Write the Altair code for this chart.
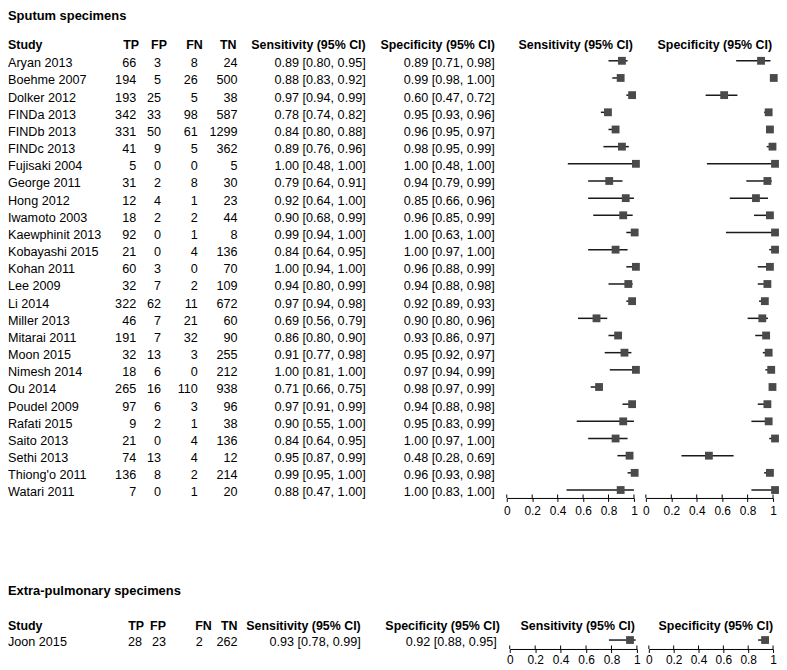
import altair as alt
import pandas as pd

# ---------------- data: sputum specimens ----------------
studies1 = ["Aryan 2013", "Boehme 2007", "Dolker 2012", "FINDa 2013", "FINDb 2013",
            "FINDc 2013", "Fujisaki 2004", "George 2011", "Hong 2012", "Iwamoto 2003",
            "Kaewphinit 2013", "Kobayashi 2015", "Kohan 2011", "Lee 2009", "Li 2014",
            "Miller 2013", "Mitarai 2011", "Moon 2015", "Nimesh 2014", "Ou 2014",
            "Poudel 2009", "Rafati 2015", "Saito 2013", "Sethi 2013", "Thiong'o 2011",
            "Watari 2011"]
tp1 = [66, 194, 193, 342, 331, 41, 5, 31, 12, 18, 92, 21, 60, 32, 322, 46, 191, 32, 18, 265, 97, 9, 21, 74, 136, 7]
fp1 = [3, 5, 25, 33, 50, 9, 0, 2, 4, 2, 0, 0, 3, 7, 62, 7, 7, 13, 6, 16, 6, 2, 0, 13, 8, 0]
fn1 = [8, 26, 5, 98, 61, 5, 0, 8, 1, 2, 1, 4, 0, 2, 11, 21, 32, 3, 0, 110, 3, 1, 4, 4, 2, 1]
tn1 = [24, 500, 38, 587, 1299, 362, 5, 30, 23, 44, 8, 136, 70, 109, 672, 60, 90, 255, 212, 938, 96, 38, 136, 12, 214, 20]
sens1 = [0.89, 0.88, 0.97, 0.78, 0.84, 0.89, 1.00, 0.79, 0.92, 0.90, 0.99, 0.84, 1.00, 0.94, 0.97, 0.69, 0.86, 0.91, 1.00, 0.71, 0.97, 0.90, 0.84, 0.95, 0.99, 0.88]
sens_lo1 = [0.80, 0.83, 0.94, 0.74, 0.80, 0.76, 0.48, 0.64, 0.64, 0.68, 0.94, 0.64, 0.94, 0.80, 0.94, 0.56, 0.80, 0.77, 0.81, 0.66, 0.91, 0.55, 0.64, 0.87, 0.95, 0.47]
sens_hi1 = [0.95, 0.92, 0.99, 0.82, 0.88, 0.96, 1.00, 0.91, 1.00, 0.99, 1.00, 0.95, 1.00, 0.99, 0.98, 0.79, 0.90, 0.98, 1.00, 0.75, 0.99, 1.00, 0.95, 0.99, 1.00, 1.00]
spec1 = [0.89, 0.99, 0.60, 0.95, 0.96, 0.98, 1.00, 0.94, 0.85, 0.96, 1.00, 1.00, 0.96, 0.94, 0.92, 0.90, 0.93, 0.95, 0.97, 0.98, 0.94, 0.95, 1.00, 0.48, 0.96, 1.00]
spec_lo1 = [0.71, 0.98, 0.47, 0.93, 0.95, 0.95, 0.48, 0.79, 0.66, 0.85, 0.63, 0.97, 0.88, 0.88, 0.89, 0.80, 0.86, 0.92, 0.94, 0.97, 0.88, 0.83, 0.97, 0.28, 0.93, 0.83]
spec_hi1 = [0.98, 1.00, 0.72, 0.96, 0.97, 0.99, 1.00, 0.99, 0.96, 0.99, 1.00, 1.00, 0.99, 0.98, 0.93, 0.96, 0.97, 0.97, 0.99, 0.99, 0.98, 0.99, 1.00, 0.69, 0.98, 1.00]

# ---------------- data: extra-pulmonary specimens ----------------
studies2 = ["Joon 2015"]
tp2 = [28]
fp2 = [23]
fn2 = [2]
tn2 = [262]
sens2 = [0.93]
sens_lo2 = [0.78]
sens_hi2 = [0.99]
spec2 = [0.92]
spec_lo2 = [0.88]
spec_hi2 = [0.95]

tick_values = [0, 0.2, 0.4, 0.6, 0.8, 1]

section_titles = ["Sputum specimens", "Extra-pulmonary specimens"]
headers = ["Study", "TP", "FP", "FN", "TN", "Sensitivity (95% CI)", "Specificity (95% CI)"]


def build_df(studies, tp, fp, fn, tn, se, se_lo, se_hi, sp, sp_lo, sp_hi):
    return pd.DataFrame({
        "Study": studies,
        "TP": [str(v) for v in tp],
        "FP": [str(v) for v in fp],
        "FN": [str(v) for v in fn],
        "TN": [str(v) for v in tn],
        "SensTxt": [f"{a:.2f} [{b:.2f}, {c:.2f}]" for a, b, c in zip(se, se_lo, se_hi)],
        "SpecTxt": [f"{a:.2f} [{b:.2f}, {c:.2f}]" for a, b, c in zip(sp, sp_lo, sp_hi)],
        "sens": se, "sens_lo": se_lo, "sens_hi": se_hi,
        "spec": sp, "spec_lo": sp_lo, "spec_hi": sp_hi,
    })


df1 = build_df(studies1, tp1, fp1, fn1, tn1, sens1, sens_lo1, sens_hi1, spec1, spec_lo1, spec_hi1)
df2 = build_df(studies2, tp2, fp2, fn2, tn2, sens2, sens_lo2, sens_hi2, spec2, spec_lo2, spec_hi2)
ticks_df = pd.DataFrame({"t": tick_values})

FONT = "Liberation Sans"
W, H = 771, 643


def section(df, studies, title, title_y, header_y, yrange, col_hdr_x, col_val_x,
            fhdr_x, sens_range, spec_range, axis_offset, axis_y, label_pad):
    layers = []
    ysc = alt.Scale(type="point", domain=studies, range=yrange, padding=0)
    Y = alt.Y("Study:N", scale=ysc, axis=None)

    # section title
    layers.append(alt.Chart(pd.DataFrame({"t": [title]})).mark_text(
        align="left", baseline="middle", font=FONT, fontSize=13, fontWeight="bold", color="black"
    ).encode(x=alt.value(0), y=alt.value(title_y), text="t:N"))

    # header row
    hdr_df = pd.DataFrame({"h": headers + ["Sensitivity (95% CI)", "Specificity (95% CI)"]})
    hx = col_hdr_x + fhdr_x
    for i, h in enumerate(hdr_df["h"]):
        layers.append(alt.Chart(pd.DataFrame({"h": [h]})).mark_text(
            align="left" if i == 0 else "right", baseline="middle", font=FONT,
            fontSize=12.5, fontWeight="bold", color="black"
        ).encode(x=alt.value(hx[i]), y=alt.value(header_y), text="h:N"))

    # table columns
    cols = ["Study", "TP", "FP", "FN", "TN", "SensTxt", "SpecTxt"]
    for i, c in enumerate(cols):
        layers.append(alt.Chart(df).mark_text(
            align="left" if i == 0 else "right", baseline="middle", dy=2.5,
            font=FONT, fontSize=12.7, color="black"
        ).encode(x=alt.value(col_val_x[i]), y=Y, text=f"{c}:N"))

    # forest plots
    for key, rng in (("sens", sens_range), ("spec", spec_range)):
        xsc = alt.Scale(domain=[0, 1], range=rng, zero=False, nice=False)
        layers.append(alt.Chart(df).mark_rule(color="#1a1a1a", strokeWidth=1.5).encode(
            x=alt.X(f"{key}_lo:Q", scale=xsc, axis=None), x2=f"{key}_hi:Q", y=Y))
        layers.append(alt.Chart(df).mark_square(size=62, color="#4a4a4a", opacity=1).encode(
            x=alt.X(f"{key}:Q", scale=xsc, axis=alt.Axis(
                orient="bottom", offset=axis_offset, values=tick_values, title=None,
                grid=False, domainColor="black", domainWidth=1, tickColor="black",
                tickSize=3.5, tickWidth=1, labelFont=FONT, labelFontSize=12,
                labelColor="black", labelPadding=label_pad, labelFlush=False,
                labelOverlap=False, format="~g")),
            y=Y, xOffset=alt.value(2)))
        layers.append(alt.Chart(ticks_df).mark_rule(color="black", strokeWidth=1).encode(
            x=alt.X("t:Q", scale=xsc, axis=None),
            y=alt.value(axis_y - 3.5), y2=alt.value(axis_y)))
    return layers


layers1 = section(df1, studies1, section_titles[0], 6, 35, [51, 483],
                  [0, 132, 160, 196, 230, 360, 490], [0, 129, 154, 191, 231, 360, 490],
                  [629, 769], [502, 630], [642, 770], -152, 491, 4)
layers2 = section(df2, studies2, section_titles[1], 585, 620, [634, 634],
                  [0, 137, 159, 205, 231, 355, 495], [0, 135, 159, 196, 231, 355, 492],
                  [631, 770], [505, 633], [645, 770], 0, 643, 2)

chart = alt.layer(*(layers1 + layers2)).resolve_scale(
    x="independent", y="independent"
).properties(width=W, height=H, padding=0).configure_view(stroke=None)

chart.save("out.html", embed_options={"renderer": "svg", "actions": False})
